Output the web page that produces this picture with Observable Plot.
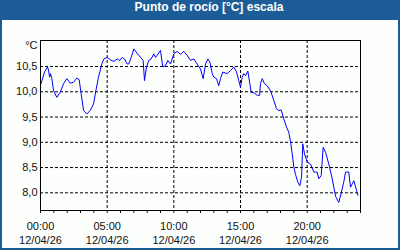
<!DOCTYPE html>
<html>
<head>
<meta charset="utf-8">
<script src="https://cdn.jsdelivr.net/npm/d3@7"></script>
<script src="https://cdn.jsdelivr.net/npm/@observablehq/plot@0.6"></script>
<style>
  html, body { margin: 0; padding: 0; background: #fff; }
  #wrap { width: 400px; height: 250px; box-sizing: border-box; border: 2px solid #1d5d97; border-top: 0; background: #fdfffd; overflow: hidden; }
  #title { height: 20px; line-height: 20px; background: #1d5d97; color: #fff; font: bold 12px "Liberation Sans", Arial, sans-serif; text-align: center; padding-left: 18px; margin: 0 -2px; }
  #chart svg { display: block; }
</style>
</head>
<body>
<div id="wrap">
  <div id="title">Punto de rocío [°C] escala</div>
  <div id="chart"></div>
</div>
<script>
const title = "Punto de rocío [°C] escala";
const unitLabel = "°C";
const hours = [0.04,0.30,0.53,0.60,0.68,0.75,0.85,0.98,1.22,1.48,1.73,1.97,2.23,2.48,2.72,2.90,3.05,3.23,3.47,3.73,3.98,4.15,4.35,4.60,4.75,5.00,5.25,5.50,5.75,5.95,6.13,6.30,6.50,6.62,6.80,7.00,7.25,7.50,7.70,7.80,7.95,8.12,8.30,8.50,8.63,8.80,9.00,9.17,9.38,9.55,9.75,10.00,10.25,10.50,10.75,11.00,11.25,11.50,11.75,12.00,12.20,12.38,12.55,12.70,12.88,13.00,13.20,13.37,13.50,13.67,14.00,14.25,14.50,14.70,14.87,15.00,15.13,15.25,15.38,15.55,15.70,15.80,16.00,16.25,16.43,16.50,16.63,16.80,17.00,17.25,17.50,17.70,17.87,18.05,18.25,18.45,18.62,18.75,18.88,19.00,19.13,19.30,19.45,19.58,19.67,19.80,20.00,20.25,20.50,20.75,20.87,21.05,21.20,21.38,21.62,21.88,22.13,22.37,22.55,22.75,22.88,23.12,23.25,23.50,23.70,23.81];
const dewPoint = [10.16,10.39,10.49,10.43,10.29,10.36,10.26,10.02,9.89,9.99,10.16,10.26,10.17,10.19,10.27,10.24,9.96,9.63,9.56,9.63,9.76,10.02,10.29,10.55,10.65,10.68,10.63,10.60,10.65,10.62,10.68,10.65,10.55,10.55,10.68,10.85,10.76,10.68,10.62,10.22,10.49,10.62,10.65,10.75,10.68,10.74,10.82,10.49,10.52,10.62,10.55,10.75,10.80,10.74,10.80,10.72,10.62,10.65,10.55,10.45,10.26,10.55,10.65,10.59,10.36,10.29,10.26,10.12,10.26,10.39,10.36,10.42,10.49,10.39,10.22,10.09,10.29,10.36,10.32,10.41,10.16,9.99,9.98,9.93,9.93,10.16,10.26,10.16,10.12,10.02,9.83,9.66,9.63,9.64,9.46,9.30,9.20,9.02,8.77,8.51,8.36,8.21,8.14,8.31,8.97,8.77,8.61,8.57,8.41,8.41,8.28,8.34,8.90,8.80,8.57,8.28,7.93,7.81,7.99,8.22,8.41,8.41,8.11,8.24,8.05,7.95];
const yTicks = [8.0, 8.5, 9.0, 9.5, 10.0, 10.5];
const yTickLabels = ["8,0", "8,5", "9,0", "9,5", "10,0", "10,5"];
const xTickHours = [0, 5, 10, 15, 20];
const xTickTimes = ["00:00", "05:00", "10:00", "15:00", "20:00"];
const xTickDates = ["12/04/26", "12/04/26", "12/04/26", "12/04/26", "12/04/26"];
const minorHours = d3.range(0, 25, 1);

const data = hours.map((h, i) => ({h, v: dewPoint[i]}));
const dash = {stroke: "#000", strokeOpacity: 1, strokeDasharray: "3,2"};

const chart = Plot.plot({
  width: 396,
  height: 228,
  marginLeft: 38,
  marginRight: 38,
  marginTop: 20,
  marginBottom: 38,
  x: {domain: [0, 24]},
  y: {domain: [7.65, 11.015]},
  style: {fontFamily: "'Liberation Sans', Arial, sans-serif", fontSize: "11px", background: "transparent", color: "#111"},
  marks: [
    Plot.gridY(yTicks, dash),
    Plot.gridX(xTickHours.slice(1), dash),
    Plot.line(data, {x: "h", y: "v", stroke: "#0000ff", strokeWidth: 1}),
    Plot.frame({stroke: "#000"}),
    Plot.axisY(yTicks, {tickSize: 0, tickPadding: 3, tickFormat: d => yTickLabels[yTicks.indexOf(d)], label: null}),
    Plot.axisX(minorHours, {tickSize: 3, tickFormat: () => "", label: null}),
    Plot.axisX(xTickHours, {tickSize: 0, tickPadding: 10, lineHeight: 1.27, tickFormat: d => {const i = xTickHours.indexOf(d); return xTickTimes[i] + "\n" + xTickDates[i];}, label: null}),
    Plot.text([unitLabel], {frameAnchor: "top-left", dx: -3, dy: 1, textAnchor: "end", lineAnchor: "top"})
  ]
});
document.getElementById("chart").appendChild(chart);
</script>
</body>
</html>
